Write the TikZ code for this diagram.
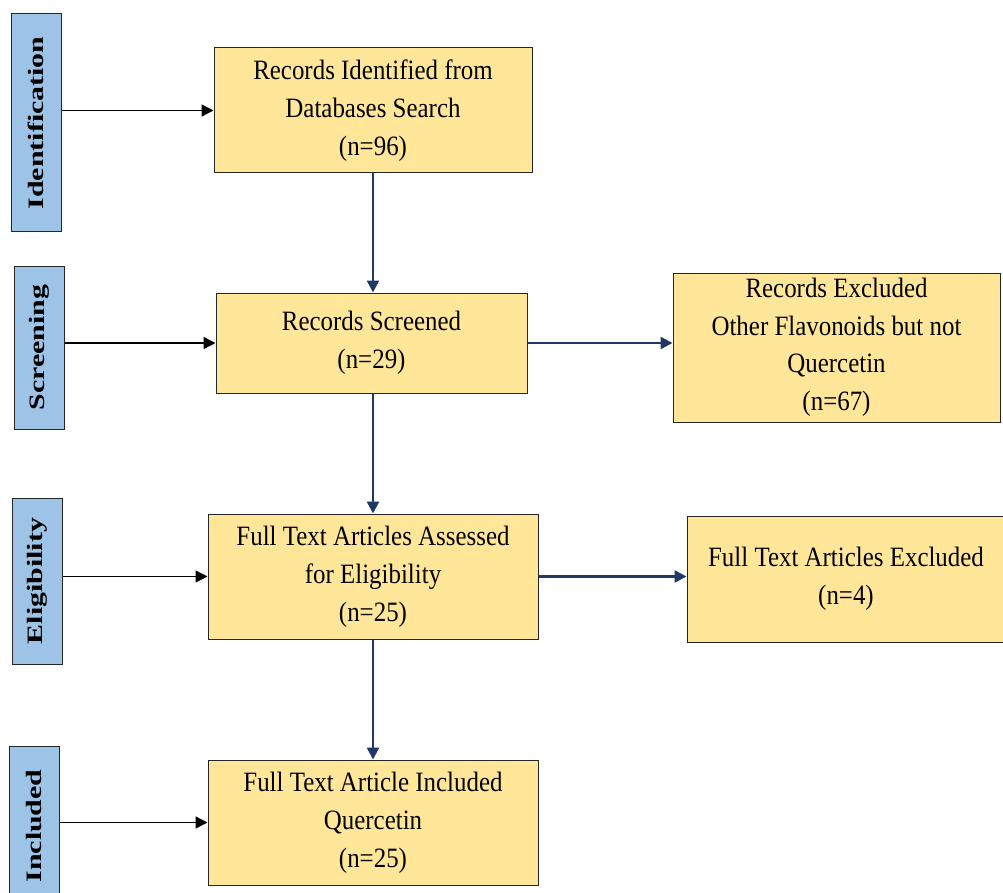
\documentclass[tikz,border=0pt]{standalone}
\usepackage{fontspec}
\setmainfont{Liberation Serif}[FakeStretch=0.89]
\newfontfamily\stagefont{Liberation Serif}[FakeStretch=1.36]
\usetikzlibrary{arrows.meta,positioning}

\definecolor{stagecol}{HTML}{9DC3E6}
\definecolor{boxcol}{HTML}{FFE699}
\definecolor{navy}{HTML}{1F3864}

\tikzset{
  stage/.style={draw=black!85, line width=1pt, fill=stagecol, minimum width=50pt,
    font=\stagefont\fontsize{22}{22}\selectfont\bfseries, inner sep=0pt},
  flowbox/.style={draw=black!85, line width=1pt, fill=boxcol, align=center,
    font=\fontsize{28}{38}\selectfont, inner sep=0pt},
  tostage/.style={-{Triangle[length=12pt,width=12pt]}, line width=1.4pt, black},
  toflow/.style={-{Triangle[length=12pt,width=12pt]}, line width=2.5pt, navy}
}

\begin{document}
\begin{tikzpicture}[x=1pt,y=1pt]
  \useasboundingbox (0,0) rectangle (1003,-893);

  % stage labels on the left
  \node[stage, minimum height=218pt] (ident) at (36,-123) {\rotatebox{90}{Identification}};
  \node[stage, minimum height=163pt] (screen) at (39,-347.5) {\rotatebox{90}{Screening}};
  \node[stage, minimum height=166pt] (elig) at (37,-581) {\rotatebox{90}{Eligibility}};
  \node[stage, minimum height=160pt] (incl) at (34,-826) {\rotatebox{90}{Included}};

  % main flow
  \node[flowbox, minimum width=318pt, minimum height=125pt] (records) at (373,-110.5)
    {Records Identified from\\Databases Search\\(n=96)};
  \node[flowbox, minimum width=311pt, minimum height=100pt] (screened) at (371.5,-343)
    {Records Screened\\(n=29)};
  \node[flowbox, minimum width=330pt, minimum height=125pt] (fulltext) at (373,-576.5)
    {Full Text Articles Assessed\\for Eligibility\\(n=25)};
  \node[flowbox, minimum width=330pt, minimum height=125pt] (included) at (373,-822.5)
    {Full Text Article Included\\Quercetin\\(n=25)};

  % excluded
  \node[flowbox, minimum width=327pt, minimum height=149pt, font=\fontsize{28}{37.5}\selectfont] (recexcl) at (836.5,-347.5)
    {Records Excluded\\Other Flavonoids but not\\Quercetin\\(n=67)};
  \node[flowbox, minimum width=318pt, minimum height=126pt] (ftexcl) at (846,-579)
    {Full Text Articles Excluded\\(n=4)};

  % stage arrows
  \draw[tostage] (ident.east |- records) -- (records.west);
  \draw[tostage] (screen.east |- screened) -- (screened.west);
  \draw[tostage] (elig.east |- fulltext) -- (fulltext.west);
  \draw[tostage] (incl.east |- included) -- (included.west);

  % flow arrows
  \draw[toflow] (records.south) -- (records.south |- screened.north);
  \draw[toflow] (screened.south -| fulltext.north) -- (fulltext.north);
  \draw[toflow] (fulltext.south) -- (included.north);
  \draw[toflow] (screened.east) -- (screened.east -| recexcl.west);
  \draw[toflow] (fulltext.east) -- (fulltext.east -| ftexcl.west);
\end{tikzpicture}
\end{document}
